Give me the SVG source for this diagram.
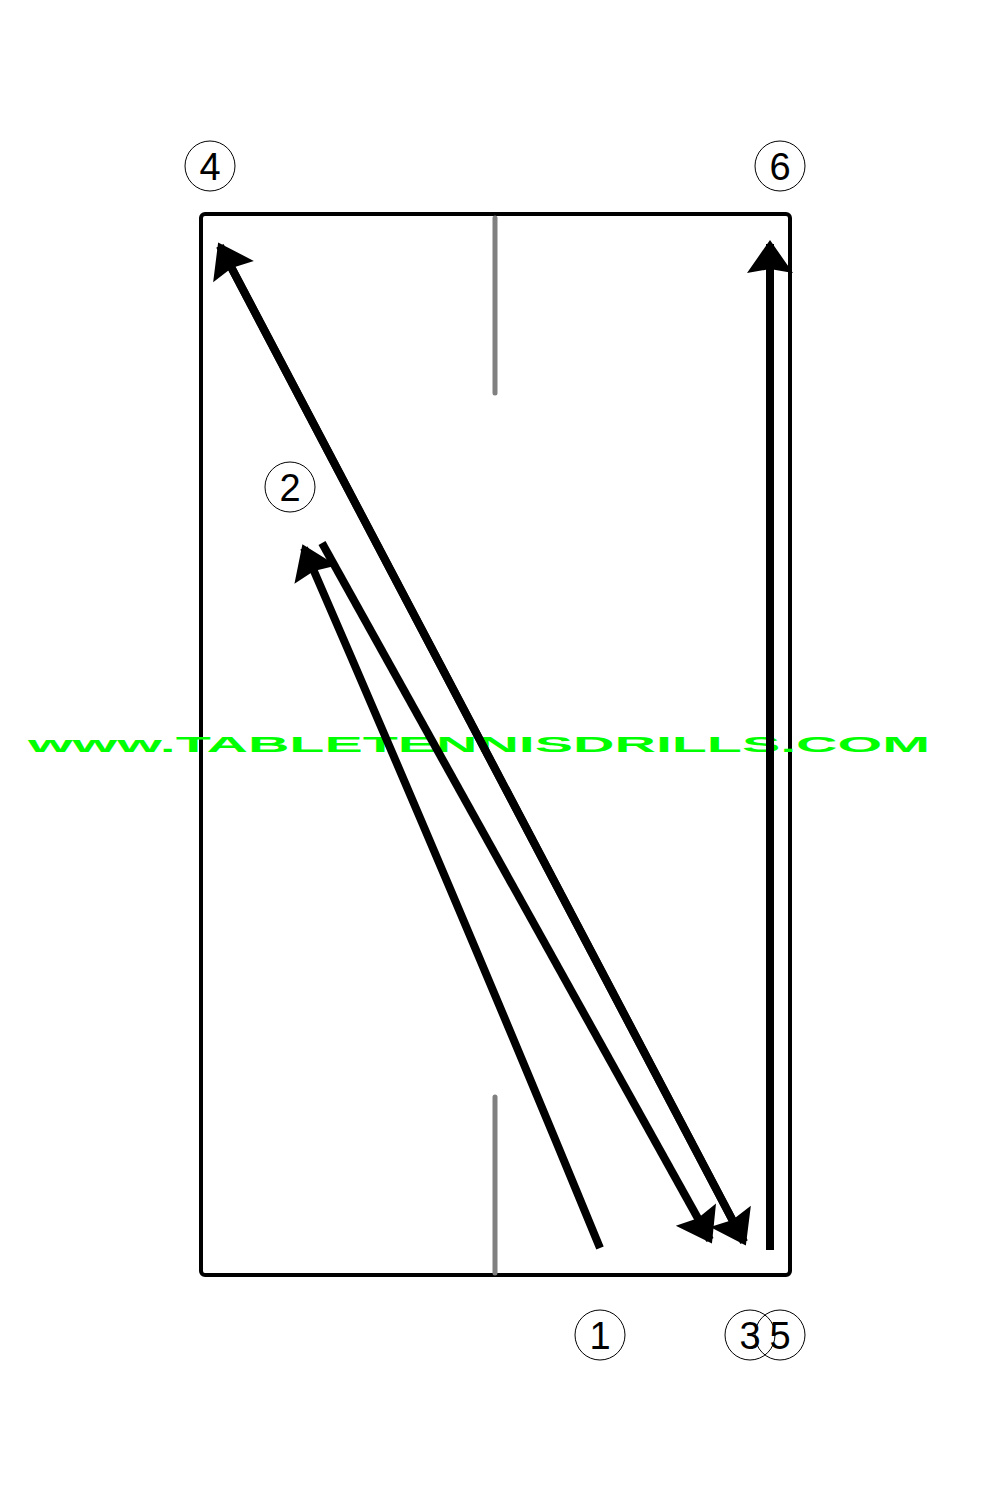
<svg xmlns="http://www.w3.org/2000/svg" width="1000" height="1500" viewBox="0 0 1000 1500">
<style>
.lbl{font-family:"Liberation Sans",Arial,sans-serif;font-size:38px;fill:#000;text-anchor:middle}
.ring{fill:none;stroke:#000;stroke-width:1}
.shot{fill:none;stroke:#000;stroke-width:8}
.net{stroke:#808080;stroke-width:5;stroke-linecap:round}
</style>
<defs>
<marker id="ah" markerUnits="userSpaceOnUse" markerWidth="60" markerHeight="60" viewBox="-35 -30 45 60" refX="0" refY="0" orient="auto">
<path d="M4,0 L-29,-23 L-25,0 L-29,23 Z" fill="#000"/>
</marker>
</defs>
<rect width="1000" height="1500" fill="#fff"/>
<g id="table">
<rect x="201" y="214" width="589" height="1061" rx="4" fill="none" stroke="#000" stroke-width="4"/>
<line class="net" x1="495" y1="218" x2="495" y2="393"/>
<line class="net" x1="495" y1="1097" x2="495" y2="1273"/>
</g>
<g id="watermark">
<text x="28" y="752" font-family="Liberation Sans,Arial,sans-serif" font-weight="bold" font-size="22" fill="#00ff00" textLength="902" lengthAdjust="spacingAndGlyphs">www.TABLETENNISDRILLS.COM</text>
</g>
<g id="connectors">
<path class="shot" d="M600,1248 Q462,912 304,548" marker-end="url(#ah)"/>
<path class="shot" d="M322,543 L710,1240" marker-end="url(#ah)"/>
<path class="shot" d="M744,1242 L220,246" marker-end="url(#ah)"/>
<path class="shot" d="M220,246 L744,1242" marker-end="url(#ah)"/>
<path class="shot" d="M770,1250 L770,244" marker-end="url(#ah)"/>
</g>
<g id="n4"><circle class="ring" cx="210" cy="166" r="25"/><text class="lbl" x="210" y="180">4</text></g>
<g id="n6"><circle class="ring" cx="780" cy="166" r="25"/><text class="lbl" x="780" y="180">6</text></g>
<g id="n2"><circle class="ring" cx="290" cy="487" r="25"/><text class="lbl" x="290" y="501">2</text></g>
<g id="n1"><circle class="ring" cx="600" cy="1335" r="25"/><text class="lbl" x="600" y="1349">1</text></g>
<g id="n3"><circle class="ring" cx="750" cy="1335" r="25"/><text class="lbl" x="750" y="1349">3</text></g>
<g id="n5"><circle class="ring" cx="780" cy="1335" r="25"/><text class="lbl" x="780" y="1349">5</text></g>
</svg>
